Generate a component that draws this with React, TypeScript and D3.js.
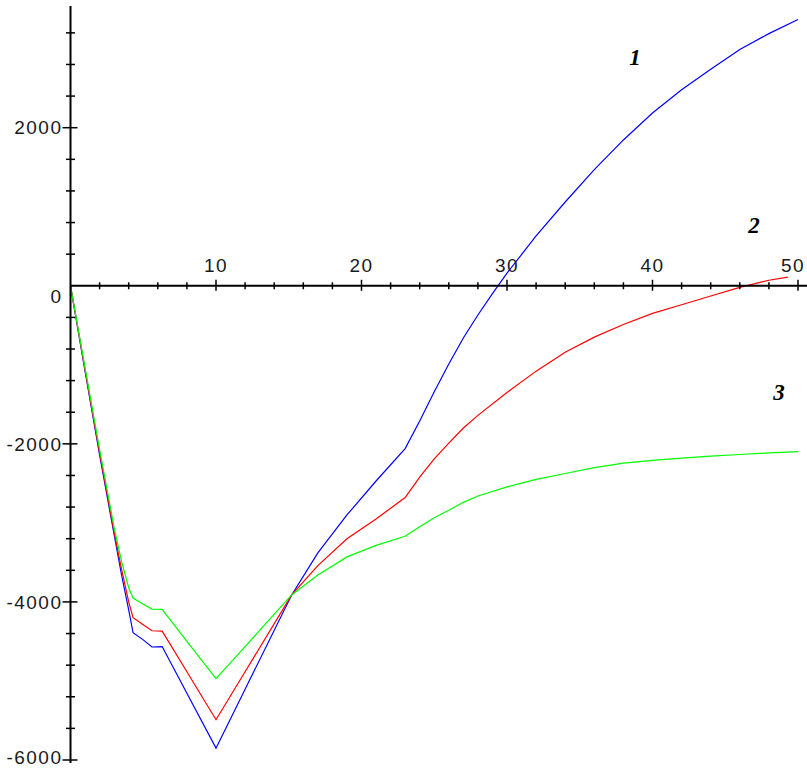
import React from "react";
import * as d3 from "d3";

// curve 1 (blue)
const x1 = [0, 1, 2, 3, 3.5, 4, 4.3, 5, 5.6, 6.3, 8, 10, 12, 15.2, 17, 19, 21, 23, 24, 25, 26, 27, 28, 29, 30, 32, 34, 36, 38, 40, 42, 44, 46, 48, 50];
const y1 = [0, -1080, -2140, -3150, -3650, -4100, -4390, -4480, -4570, -4565, -5155, -5850, -5105, -3912, -3380, -2900, -2470, -2060, -1710, -1340, -990, -660, -370, -100, 160, 630, 1060, 1470, 1845, 2185, 2480, 2740, 2990, 3190, 3370];

// curve 2 (red)
const x2 = [0, 1, 2, 3, 3.5, 4, 4.3, 5, 5.6, 6.3, 8, 10, 12, 15.2, 17, 19, 21, 23, 24, 25, 26, 27, 28, 30, 32, 34, 36, 38, 40, 42, 44, 46, 48, 49.3];
const y2 = [0, -1060, -2110, -3120, -3580, -4000, -4200, -4290, -4365, -4370, -4884, -5490, -4883, -3912, -3540, -3200, -2950, -2680, -2420, -2190, -1990, -1800, -1640, -1350, -1080, -840, -650, -490, -350, -240, -130, -20, 70, 110];

// curve 3 (green)
const x3 = [0, 1, 2, 3, 3.5, 4, 4.3, 5, 5.6, 6.3, 8, 10, 12, 15.2, 17, 19, 21, 23, 24, 25, 26, 27, 28, 30, 32, 34, 36, 38, 40, 42, 44, 46, 48, 50];
const y3 = [0, -1040, -2070, -3060, -3480, -3820, -3950, -4030, -4090, -4095, -4498, -4970, -4565, -3912, -3660, -3430, -3285, -3170, -3050, -2935, -2840, -2740, -2660, -2545, -2450, -2375, -2300, -2245, -2210, -2180, -2155, -2135, -2115, -2098];

const xMajor = [10, 20, 30, 40, 50];
const yMajor = [2000, -2000, -4000, -6000];
const yLabels = ["2000", "-2000", "-4000", "-6000"];

const W = 807;
const H = 769;

export default function App() {
  const x = d3.scaleLinear().domain([0, 50]).range([70.5, 798]);
  const y = d3.scaleLinear().domain([2000, -6000]).range([127.7, 760]);

  const xMinor = d3.range(2, 51, 2).filter((v) => v % 10 !== 0);
  const yMinor = d3.range(-6000, 3300, 400).filter((v) => v % 2000 !== 0);

  const line = d3
    .line<[number, number]>()
    .x((d) => x(d[0]))
    .y((d) => y(d[1]));

  const series = [
    { xs: x1, ys: y1, color: "#0000ff" },
    { xs: x2, ys: y2, color: "#ff0000" },
    { xs: x3, ys: y3, color: "#00ff00" },
  ];

  const x0 = x(0);
  const y0 = y(0);
  const tickFont = { fontFamily: "Liberation Sans, Arial, sans-serif", fontSize: 19, letterSpacing: 1.5, fill: "#1a1a1a" };
  const numFont = { fontFamily: "Liberation Serif, Times New Roman, serif", fontSize: 23, fontWeight: "bold" as const, fontStyle: "italic" as const, fill: "#000" };

  return (
    <svg width={W} height={H} style={{ position: "absolute", left: 0, top: 0, background: "#fff" }}>
      {/* curves */}
      {series.map((s, i) => (
        <path
          key={i}
          d={line(s.xs.map((v, j) => [v, s.ys[j]] as [number, number])) || ""}
          fill="none"
          stroke={s.color}
          strokeWidth={1.2}
        />
      ))}

      {/* axes */}
      <line x1={x0} x2={W} y1={y0} y2={y0} stroke="#000" strokeWidth={2} />
      <line x1={x0} x2={x0} y1={6} y2={763} stroke="#000" strokeWidth={2} />

      {/* x ticks */}
      {xMinor.map((v) => (
        <line key={"xm" + v} x1={x(v)} x2={x(v)} y1={y0 - 3.5} y2={y0 + 3.5} stroke="#000" strokeWidth={1.5} />
      ))}
      {xMajor.map((v) => (
        <g key={"xM" + v}>
          <line x1={x(v)} x2={x(v)} y1={y0 - 6} y2={y0 + 5} stroke="#000" strokeWidth={1.5} />
          <text x={Math.min(x(v), W - 14)} y={y0 - 14} textAnchor="middle" style={tickFont}>
            {v}
          </text>
        </g>
      ))}

      {/* y ticks */}
      {yMinor.map((v) => (
        <line key={"ym" + v} x1={x0 - 4.5} x2={x0 + 4.5} y1={y(v)} y2={y(v)} stroke="#000" strokeWidth={1.5} />
      ))}
      {yMajor.map((v, i) => (
        <g key={"yM" + v}>
          <line x1={x0 - 8} x2={x0 + 7} y1={y(v)} y2={y(v)} stroke="#000" strokeWidth={1.5} />
          <text x={x0 - 8} y={Math.min(y(v), H - 12)} dy="0.35em" textAnchor="end" style={tickFont}>
            {yLabels[i]}
          </text>
        </g>
      ))}
      <text x={x0 - 8} y={y0 + 11} dy="0.35em" textAnchor="end" style={tickFont}>
        0
      </text>

      {/* curve numbers */}
      <text x={635} y={65} textAnchor="middle" style={numFont}>1</text>
      <text x={754} y={233} textAnchor="middle" style={numFont}>2</text>
      <text x={779} y={400} textAnchor="middle" style={numFont}>3</text>
    </svg>
  );
}
